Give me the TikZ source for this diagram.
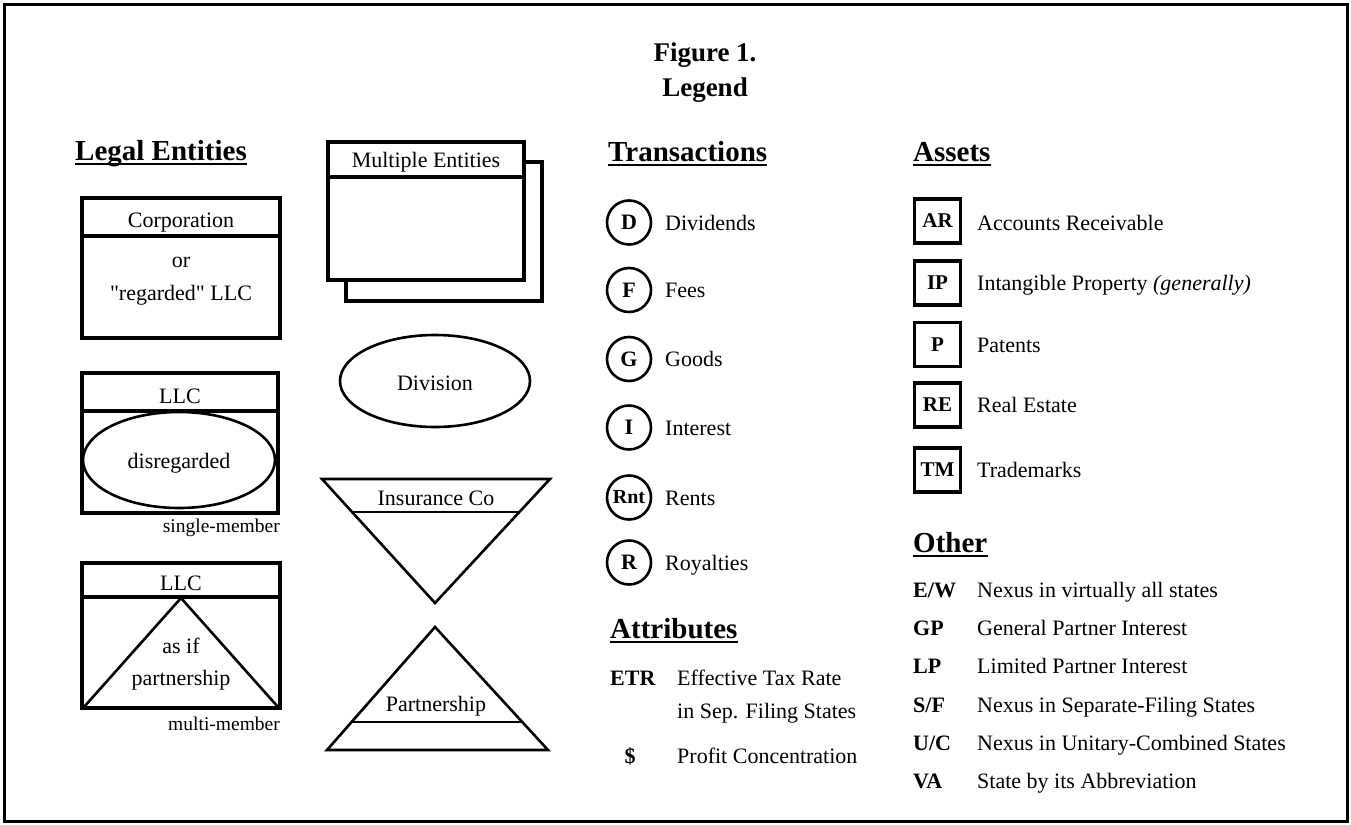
\documentclass[tikz,border=0pt]{standalone}
\usepackage{fontspec}
\setmainfont{Liberation Serif}[Ligatures=TeXOff]
\begin{document}
\begin{tikzpicture}[x=1pt,y=-1pt,
  body/.style={font=\fontsize{22}{26}\selectfont, inner sep=0pt, anchor=base west},
  bodyc/.style={font=\fontsize{22}{26}\selectfont, inner sep=0pt, anchor=base},
  small/.style={font=\fontsize{19.5}{22}\selectfont, inner sep=0pt, anchor=base east},
  abbr/.style={font=\fontsize{22}{26}\selectfont\bfseries, inner sep=0pt, anchor=base west},
  hdr/.style={font=\fontsize{29}{33}\selectfont\bfseries, inner sep=0pt, anchor=base west},
  uline/.style={line width=2pt},
  ttl/.style={font=\fontsize{27}{31}\selectfont\bfseries, inner sep=0pt, anchor=base},
  thick box/.style={line width=3.2pt},
  shapeline/.style={line width=2.6pt},
  trc/.style={draw, circle, line width=2.6pt, minimum size=44pt, inner sep=0pt, font=\fontsize{22}{24}\selectfont\bfseries},
  ast/.style={draw, rectangle, line width=3.4pt, minimum width=46pt, minimum height=44pt, inner sep=0pt, font=\fontsize{21}{24}\selectfont\bfseries}
]
\useasboundingbox (0,0) rectangle (1351,824);
\fill[white] (0,0) rectangle (1351,824);
\draw[line width=3pt] (4,5) rectangle (1347,821);

% Title
\node[ttl] (t1) at (705,62) {Figure 1.};
\node[ttl] (t2) at (705,97) {Legend};

% Legal Entities
\node[hdr] (hLegal) at (75,160) {Legal Entities};
\draw[uline] ([yshift=-3.5pt]hLegal.base west) -- ([yshift=-3.5pt]hLegal.base east);

\draw[thick box] (82,198) rectangle (280,338);
\draw[thick box] (82,236) -- (280,236);
\node[bodyc] (corp) at (181,227) {Corporation};
\node[bodyc] (or) at (181,267) {or};
\node[bodyc] (reg) at (181,300) {"regarded" LLC};

\draw[thick box] (82,373) rectangle (278,513);
\draw[thick box] (82,411) -- (278,411);
\node[bodyc] (llc1) at (180,403) {LLC};
\draw[shapeline] (179,460) ellipse [x radius=96, y radius=48];
\node[bodyc] (disreg) at (179,468) {disregarded};
\node[small] (single) at (280,532) {single-member};

\draw[thick box] (82,563) rectangle (280,708);
\draw[thick box] (82,597) -- (280,597);
\node[bodyc] (llc2) at (181,590) {LLC};
\draw[shapeline, line join=miter] (84,707) -- (181,598) -- (278,707);
\node[bodyc] (asif) at (181,653) {as if};
\node[bodyc] (partn) at (181,685) {partnership};
\node[small] (multi) at (280,730) {multi-member};

% Multiple entities
\draw[thick box, fill=white] (346,162) rectangle (542,301);
\draw[thick box, fill=white] (328,142) rectangle (524,280);
\draw[thick box] (328,177) -- (524,177);
\node[bodyc] (multent) at (426,167) {Multiple Entities};

% Division
\draw[shapeline] (435,381) ellipse [x radius=95, y radius=46];
\node[bodyc] (div) at (435,390) {Division};

% Insurance Co
\draw[shapeline, line join=miter] (322,479) -- (550,479) -- (435,603) -- cycle;
\draw[shapeline] (353,512) -- (519,512);
\node[bodyc] (ins) at (436,505) {Insurance Co};

% Partnership
\draw[shapeline, line join=miter] (327,750) -- (548,750) -- (435,627) -- cycle;
\draw[shapeline] (352,722) -- (523,722);
\node[bodyc] (pship) at (436,711) {Partnership};

% Transactions
\node[hdr] (hTrans) at (608,161) {Transactions};
\draw[uline] ([yshift=-3.5pt]hTrans.base west) -- ([yshift=-3.5pt]hTrans.base east);
\node[trc] (cD) at (629,222.5) {D};
\node[body] (lD) at (665,230) {Dividends};
\node[trc] (cF) at (629,290) {F};
\node[body] (lF) at (665,297) {Fees};
\node[trc] (cG) at (629,359) {G};
\node[body] (lG) at (665,366) {Goods};
\node[trc] (cI) at (629,427.5) {I};
\node[body] (lI) at (665,435) {Interest};
\node[trc, font=\fontsize{20}{22}\selectfont\bfseries] (cRnt) at (629,497.5) {Rnt};
\node[body] (lRnt) at (665,505) {Rents};
\node[trc] (cR) at (629,562.5) {R};
\node[body] (lR) at (665,570) {Royalties};

% Attributes
\node[hdr] (hAttr) at (610,638) {Attributes};
\draw[uline] ([yshift=-3.5pt]hAttr.base west) -- ([yshift=-3.5pt]hAttr.base east);
\node[abbr] (aETR) at (610,685) {ETR};
\node[body] (lETR1) at (677,685) {Effective Tax Rate};
\node[body] (lETR2) at (677,718) {in Sep. Filing States};
\node[abbr, anchor=base] (aDol) at (630,763) {\$};
\node[body] (lDol) at (677,763) {Profit Concentration};

% Assets
\node[hdr] (hAssets) at (913,161) {Assets};
\draw[uline] ([yshift=-3.5pt]hAssets.base west) -- ([yshift=-3.5pt]hAssets.base east);
\node[ast] (bAR) at (937.5,221) {AR};
\node[body] (lAR) at (977,230) {Accounts Receivable};
\node[ast] (bIP) at (937.5,283) {IP};
\node[body] (lIP) at (977,290) {Intangible Property \textit{(generally)}};
\node[ast] (bP) at (937.5,344.5) {P};
\node[body] (lP) at (977,352) {Patents};
\node[ast] (bRE) at (937.5,405) {RE};
\node[body] (lRE) at (977,412) {Real Estate};
\node[ast] (bTM) at (937.5,470) {TM};
\node[body] (lTM) at (977,477) {Trademarks};

% Other
\node[hdr] (hOther) at (913,552) {Other};
\draw[uline] ([yshift=-3.5pt]hOther.base west) -- ([yshift=-3.5pt]hOther.base east);
\node[abbr] (oEW) at (913,597) {E/W};
\node[body] (lEW) at (977,597) {Nexus in virtually all states};
\node[abbr] (oGP) at (913,635) {GP};
\node[body] (lGP) at (977,635) {General Partner Interest};
\node[abbr] (oLP) at (913,673) {LP};
\node[body] (lLP) at (977,673) {Limited Partner Interest};
\node[abbr] (oSF) at (913,712) {S/F};
\node[body] (lSF) at (977,712) {Nexus in Separate-Filing States};
\node[abbr] (oUC) at (913,750) {U/C};
\node[body] (lUC) at (977,750) {Nexus in Unitary-Combined States};
\node[abbr] (oVA) at (913,788) {VA};
\node[body] (lVA) at (977,788) {State by its Abbreviation};
\end{tikzpicture}
\end{document}
